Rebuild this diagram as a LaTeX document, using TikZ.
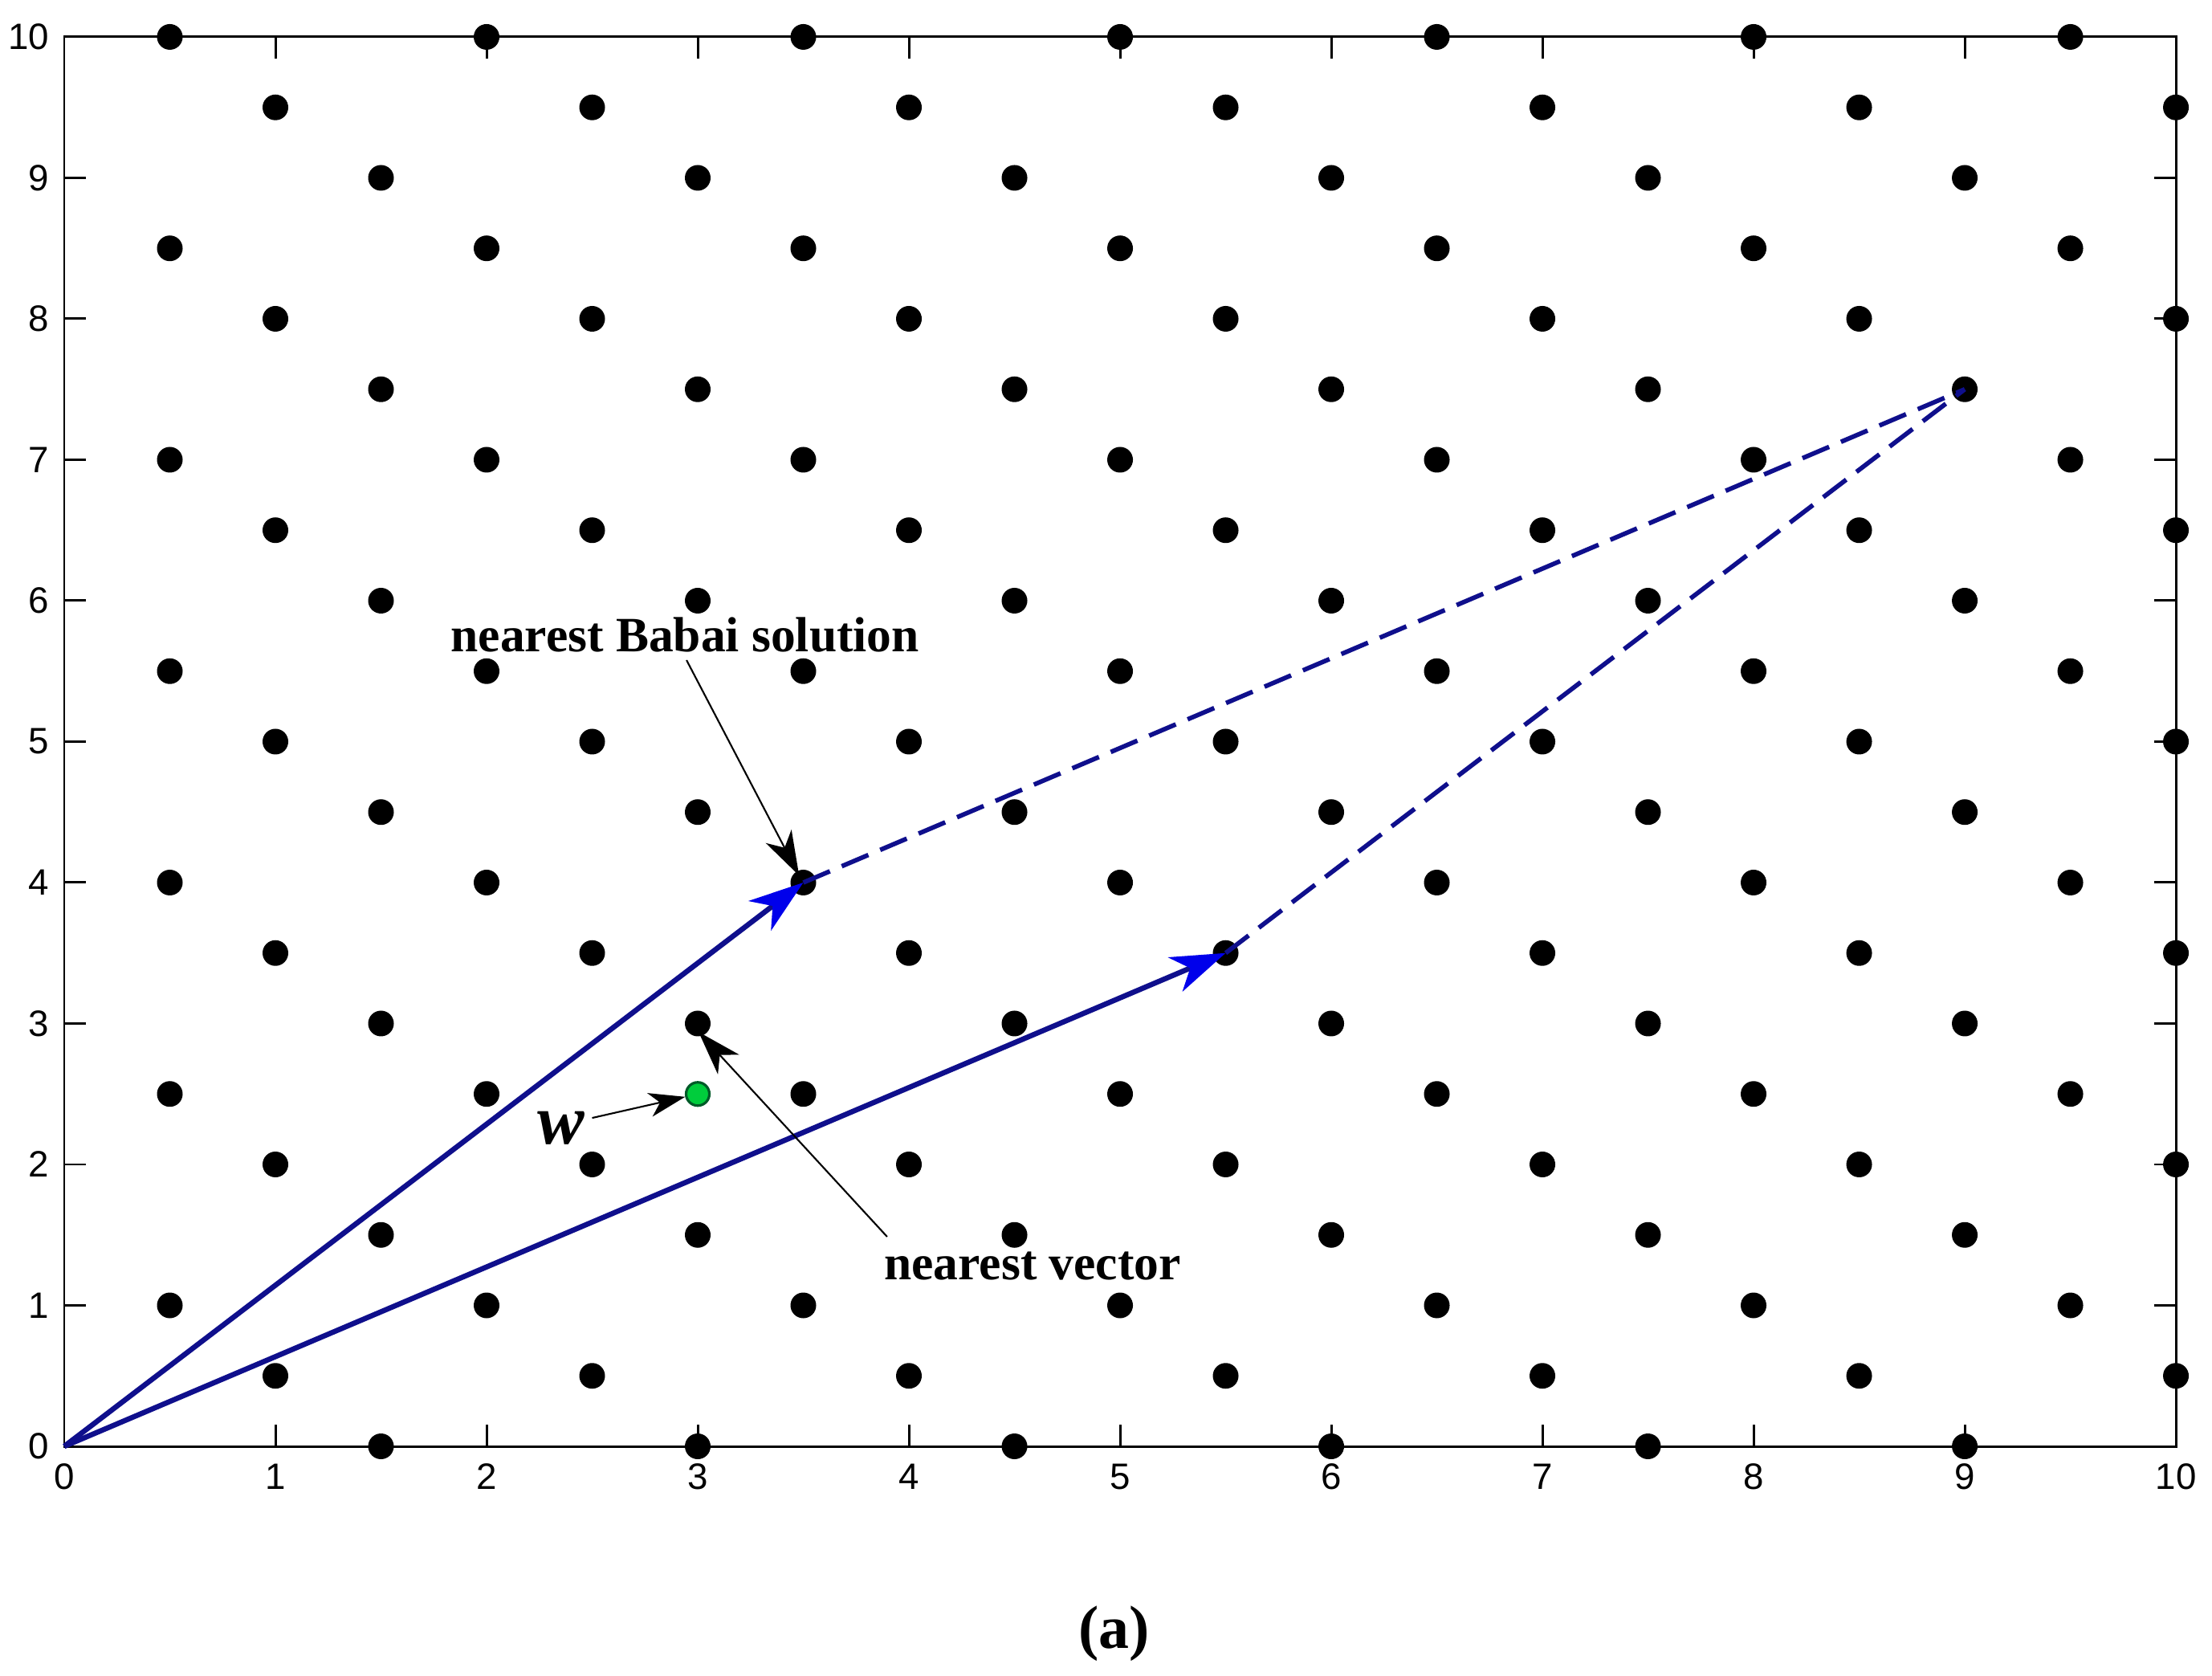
\documentclass[tikz,border=0pt]{standalone}
\usepackage{fontspec}
\setmainfont{Liberation Serif}
\newfontfamily\ticksf{Liberation Sans}
\usetikzlibrary{arrows.meta}
\definecolor{navy}{RGB}{15,15,140}
\definecolor{headblue}{RGB}{0,0,235}
\definecolor{wgreen}{RGB}{0,205,60}
\definecolor{wedge}{RGB}{0,90,40}
\tikzset{
  latdot/.style={fill=black},
  vec/.style={draw=navy, line width=1.85pt, -{Stealth[length=0.68cm,width=0.46cm,inset=0.2cm,color=headblue]}},
  dashvec/.style={draw=navy, line width=1.6pt, dash pattern=on 0.36cm off 0.16cm},
  note/.style={draw=black, line width=0.6pt, -{Stealth[length=0.55cm,width=0.36cm,inset=0.16cm]}},
  wnote/.style={draw=black, line width=0.6pt, -{Stealth[length=0.45cm,width=0.30cm,inset=0.13cm]}},
  notetext/.style={font=\fontsize{17.5}{20}\selectfont\bfseries, inner sep=0pt},
  ticklab/.style={font=\ticksf\fontsize{13}{15}\selectfont, inner sep=0pt},
  frame/.style={line width=0.85pt},
  tickmark/.style={line width=0.85pt},
  wpoint/.style={circle, fill=wgreen, draw=wedge, line width=0.9pt, minimum size=0.29cm, inner sep=0pt},
}
\begin{document}
\begin{tikzpicture}[x=2.63cm, y=1.755cm]
\useasboundingbox (-0.3042,-1.624) rectangle (10.171,10.262);
% lattice points
\foreach \i in {1,...,20} {
  \foreach \j in {0,...,20} {
    \pgfmathtruncatemacro\r{mod(\i+\j,3)}
    \ifnum\r=0
      \fill[latdot] (\i/2,\j/2) circle (0.16cm);
    \fi
  }
}
% frame and ticks
\draw[frame] (0,0) rectangle (10,10);
\foreach \k in {0,...,10} {
  \draw[tickmark] (\k,0) -- ++(0,0.27cm);
  \draw[tickmark] (\k,10) -- ++(0,-0.27cm);
  \draw[tickmark] (0,\k) -- ++(0.27cm,0);
  \draw[tickmark] (10,\k) -- ++(-0.27cm,0);
  \node[ticklab, anchor=north] (xl\k) at ([yshift=-0.21cm]\k,0) {\k};
  \node[ticklab, anchor=east] (yl\k) at ([xshift=-0.18cm]0,\k) {\k};
}
% key coordinates
\coordinate (O) at (0,0);
\coordinate (b1) at (3.5,4);
\coordinate (b2) at (5.5,3.5);
\coordinate (s) at (9,7.5);
% dashed completion
\draw[dashvec] (b1) -- (s);
\draw[dashvec] (b2) -- (s);
% basis vectors
\draw[vec] (O) -- (b1);
\draw[vec] (O) -- (b2);
% target point w
\node[wpoint] (wpt) at (3,2.5) {};
% annotations
\node[notetext] (babai) at (2.94,5.76) {nearest Babai solution};
\coordinate (btail) at (2.947,5.578);
\coordinate (btip) at (3.48,4.05);
\draw[note] (btail) -- (btip);
\node[notetext] (nvec) at (4.586,1.28) {nearest vector};
\coordinate (ntail) at (3.897,1.487);
\coordinate (ntip) at (3.004,2.94);
\draw[note] (ntail) -- (ntip);
\node[font=\fontsize{25}{28}\selectfont\bfseries\itshape, inner sep=0pt] (wl) at (2.354,2.26) {w};
\coordinate (wtail) at (2.50,2.33);
\draw[wnote] (wtail) -- (wpt);
% caption
\node[font=\fontsize{21.6}{24}\selectfont\bfseries, inner sep=0pt] (cap) at (4.973,-1.328) {(a)};
\end{tikzpicture}
\end{document}
